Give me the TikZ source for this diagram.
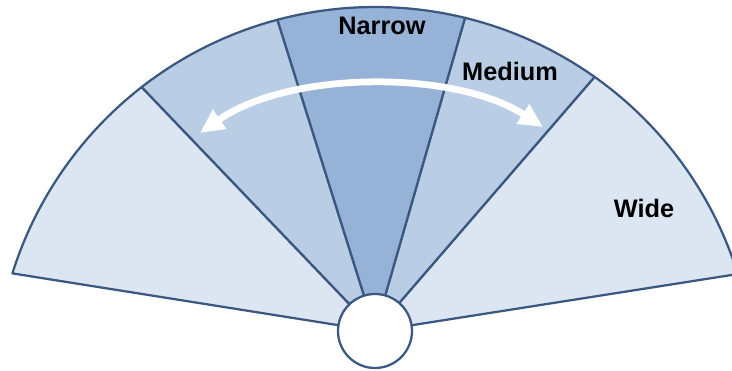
\documentclass[tikz,border=0pt]{standalone}
\usepackage{fontspec}
\setmainfont{Liberation Sans}
\usetikzlibrary{arrows.meta, calc}

\definecolor{edgeblue}{RGB}{58,88,128}
\definecolor{widefill}{RGB}{220,230,242}
\definecolor{medfill}{RGB}{185,205,229}
\definecolor{narfill}{RGB}{150,179,215}

\begin{document}
\begin{tikzpicture}[
				x=0.025cm, y=0.025cm,
				sector/.style={draw=edgeblue, line width=1.6pt, line join=round},
				hub/.style={circle, draw=edgeblue, fill=white, line width=1.6pt, minimum size=1.85cm, inner sep=0pt},
				lbl/.style={font=\fontsize{18}{20}\selectfont\bfseries, text=black, inner sep=0pt},
				flow/.style={white, line width=4.8pt, {Triangle[length=0.6cm, width=0.55cm]}-{Triangle[length=0.6cm, width=0.55cm]}}
				]
				
				\useasboundingbox (0,0) rectangle (732,370);
				\coordinate (c) at (375,-17);
				\coordinate (o) at (375,39);
				
				% the five sectors, right to left
				\foreach \a/\b/\col in {17.3/54.7/widefill, 54.7/76.3/medfill, 76.3/104.9/narfill, 104.9/127.9/medfill, 127.9/162.6/widefill} {
					\filldraw[sector, fill=\col] (o) -- ($(c)+(\a:380)$) arc[start angle=\a, end angle=\b, radius=380] -- cycle;
				}
				
				\node[hub] (hub) at (o) {};
				
				\node[lbl] (narrow) at (382,344) {Narrow};
				\node[lbl] (medium) at (510,299) {Medium};
				\node[lbl] (wide) at (644,162) {Wide};
				
				\coordinate (arrL) at (200,237);
				\coordinate (arrR) at (543,243);
				\draw[flow] (arrL) .. controls (290,300) and (455,300) .. (arrR);
			\end{tikzpicture}
\end{document}
